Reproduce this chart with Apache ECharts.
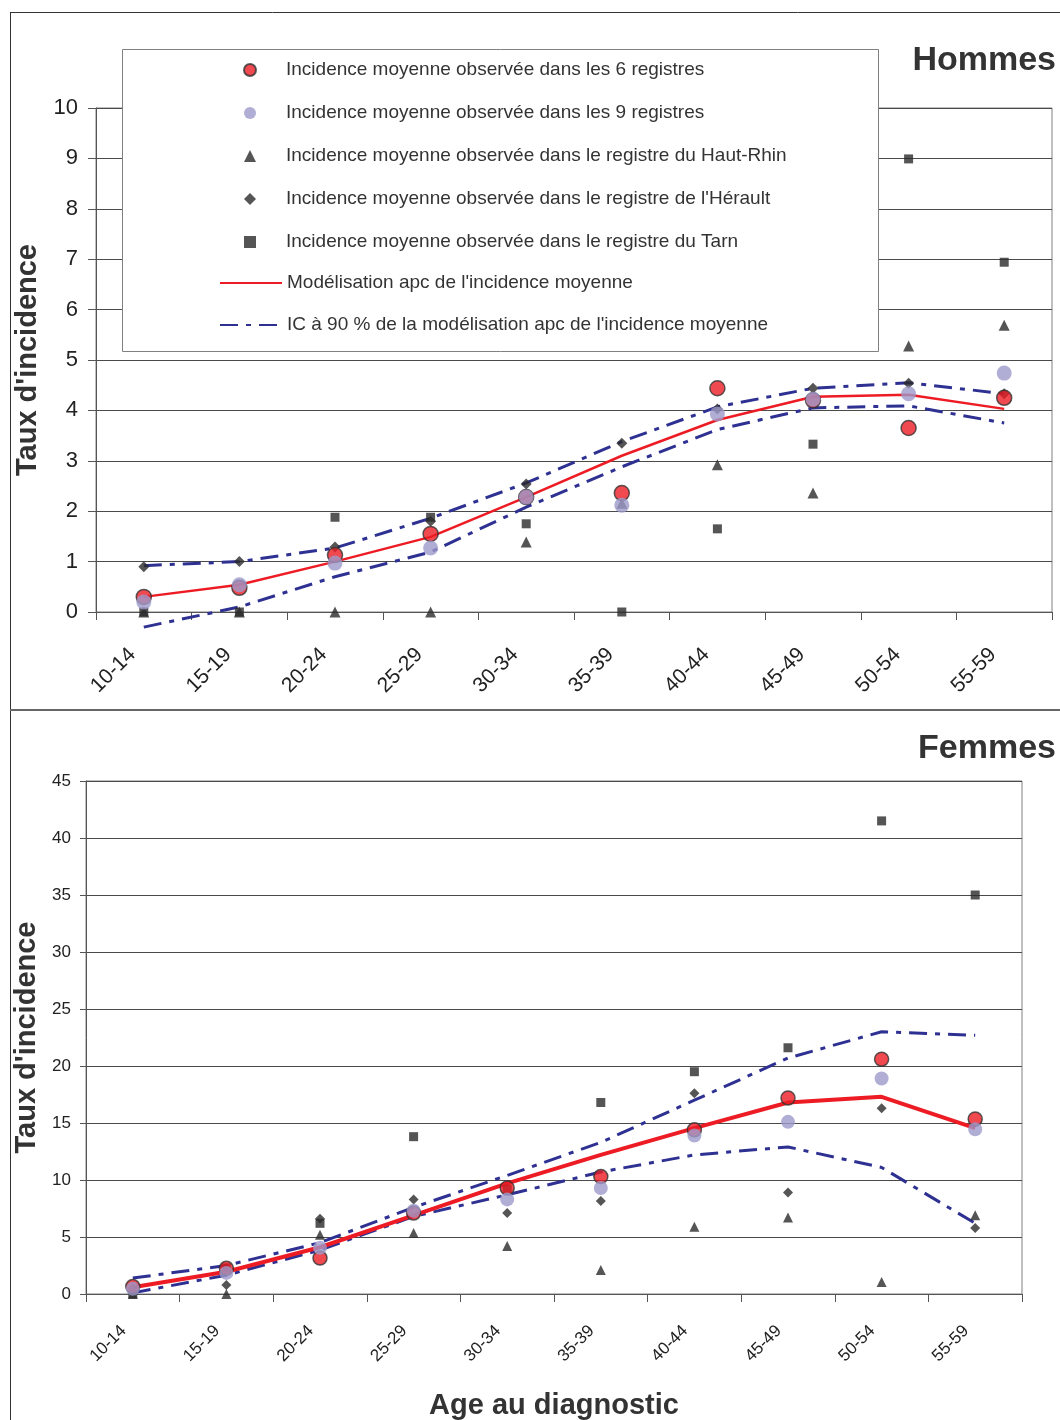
<!DOCTYPE html>
<html><head><meta charset="utf-8">
<script src="https://cdn.jsdelivr.net/npm/echarts@6/dist/echarts.min.js"></script>
<style>html,body{margin:0;padding:0;background:#fff}#c{width:1060px;height:1420px}</style>
</head><body><div id="c"></div>
<script>
const categories = ['10-14','15-19','20-24','25-29','30-34','35-39','40-44','45-49','50-54','55-59'];

// Hommes
const hObs6    = [0.30, 0.48, 1.13, 1.55, 2.28, 2.36, 4.44, 4.20, 3.65, 4.25];
const hObs9    = [0.20, 0.54, 0.97, 1.27, 2.28, 2.12, 3.93, 4.22, 4.33, 4.74];
const hHautRhin= [0, 0, 0, 0, 1.39, 2.16, 2.92, 2.36, 5.28, 5.69];
const hHerault = [0.90, 1.00, 1.29, 1.80, 2.54, 3.35, 4.03, 4.44, 4.54, 4.33];
const hTarn    = [0, 0, 1.88, 1.88, 1.75, 0, 1.65, 3.33, 8.99, 6.94];
const hModel   = [0.30, 0.54, 1.00, 1.49, 2.28, 3.10, 3.81, 4.27, 4.31, 4.03];
const hUpper   = [0.92, 1.00, 1.27, 1.86, 2.56, 3.38, 4.07, 4.44, 4.55, 4.33];
const hLower   = [-0.30, 0.10, 0.70, 1.19, 2.08, 2.88, 3.62, 4.05, 4.09, 3.75];

// Femmes
const fObs6    = [0.65, 2.25, 3.15, 7.1, 9.3, 10.3, 14.4, 17.2, 20.6, 15.35];
const fObs9    = [0.45, 1.85, 4.05, 7.3, 8.3, 9.3, 13.9, 15.1, 18.9, 14.45];
const fHautRhin= [0, 0, 5.2, 5.35, 4.2, 2.1, 5.9, 6.7, 1.05, 6.9];
const fHerault = [0.5, 0.8, 6.6, 8.3, 7.1, 8.15, 17.6, 8.9, 16.3, 5.8];
const fTarn    = [0, 2.3, 6.2, 13.8, 9.2, 16.8, 19.5, 21.6, 41.5, 35.0];
const fModel   = [0.6, 1.95, 4.1, 6.9, 9.7, 12.2, 14.55, 16.8, 17.3, 14.55];
const fUpper   = [1.4, 2.5, 4.5, 7.6, 10.4, 13.3, 17.0, 20.7, 23.0, 22.7];
const fLower   = [0.1, 1.65, 3.85, 6.8, 8.7, 10.7, 12.2, 12.9, 11.1, 6.2];

const hTicks = [0,1,2,3,4,5,6,7,8,9,10];
const fTicks = [0,5,10,15,20,25,30,35,40,45];

const N_OBS6 = 'Incidence moyenne observée dans les 6 registres';
const N_OBS9 = 'Incidence moyenne observée dans les 9 registres';
const N_HR = 'Incidence moyenne observée dans le registre du Haut-Rhin';
const N_HE = "Incidence moyenne observée dans le registre de l'Hérault";
const N_TA = 'Incidence moyenne observée dans le registre du Tarn';
const N_MOD = "Modélisation apc de l'incidence moyenne";
const N_IC = "IC à 90 % de la modélisation apc de l'incidence moyenne";

const FONT = '"Liberation Sans", Arial, sans-serif';
const RED = '#ED1C24', PURPLE = '#9D9ACB', DARK = '#2b2b2b', BLUE = '#2E3192';
const DASH = [18, 8, 5, 8];

function panelSeries(idx, d, big) {
  const s = big ? 1 : 0;
  return [
    {name: N_IC, type:'line', xAxisIndex: idx, yAxisIndex: idx, data: d.upper, symbol:'none', clip:false,
     itemStyle:{color:BLUE}, lineStyle:{color:BLUE, width:3, type:DASH}, z:2},
    {name: N_IC, type:'line', xAxisIndex: idx, yAxisIndex: idx, data: d.lower, symbol:'none', clip:false,
     itemStyle:{color:BLUE}, lineStyle:{color:BLUE, width:3, type:DASH}, z:2},
    {name: N_MOD, type:'line', xAxisIndex: idx, yAxisIndex: idx, data: d.model, symbol:'none',
     itemStyle:{color:RED}, lineStyle:{color:RED, width: big ? 2.5 : 4}, z:3},
    {name: N_TA, type:'scatter', xAxisIndex: idx, yAxisIndex: idx, data: d.tarn, symbol:'rect', symbolSize: 9,
     itemStyle:{color:DARK}, z:4},
    {name: N_HE, type:'scatter', xAxisIndex: idx, yAxisIndex: idx, data: d.herault, symbol:'diamond', symbolSize: 10+s,
     itemStyle:{color:DARK}, z:4},
    {name: N_HR, type:'scatter', xAxisIndex: idx, yAxisIndex: idx, data: d.hautrhin, symbol:'triangle', symbolSize: 10+s,
     itemStyle:{color:DARK}, z:4},
    {name: N_OBS6, type:'scatter', xAxisIndex: idx, yAxisIndex: idx, data: d.obs6, symbol:'circle', symbolSize: 14+s,
     itemStyle:{color:RED, borderColor:'#333', borderWidth:1.5}, z:5},
    {name: N_OBS9, type:'scatter', xAxisIndex: idx, yAxisIndex: idx, data: d.obs9, symbol:'circle', symbolSize: 14+s,
     itemStyle:{color:PURPLE}, z:6}
  ];
}

function xAxisCfg(idx, fs, margin, pad) {
  return {
    type:'category', gridIndex: idx, data: categories, boundaryGap: true,
    axisLine:{show:true, lineStyle:{color:'#555', width:1}},
    axisTick:{show:true, length:8, lineStyle:{color:'#555'}},
    axisLabel:{rotate:45, margin: margin, padding:[0,pad,0,0], fontSize: fs, color:'#222', fontFamily: FONT, interval:0},
    splitLine:{show:false}
  };
}
function yAxisCfg(idx, ticks, fs, nameGap) {
  return {
    type:'value', gridIndex: idx, min: ticks[0], max: ticks[ticks.length-1], interval: ticks[1]-ticks[0],
    name: "Taux d'incidence", nameLocation:'middle', nameGap: nameGap, nameRotate: 90,
    nameTextStyle:{fontSize:29, fontWeight:'bold', color:'#333', fontFamily: FONT},
    axisLine:{show:true, lineStyle:{color:'#555', width:1}},
    axisTick:{show:true, length: idx===0 ? 8 : 6, lineStyle:{color:'#555'}},
    axisLabel:{fontSize: fs, color:'#222', fontFamily: FONT, margin: idx===0 ? 18 : 15},
    splitLine:{show:true, lineStyle:{color:'#4a4a4a', width:1}}
  };
}

const chart = echarts.init(document.getElementById('c'), null, {renderer:'canvas'});
const option = {
  backgroundColor:'#fff',
  animation:false,
  textStyle:{fontFamily: FONT},
  title:[
    {text:'Hommes', right:4, top:44, padding:0, textStyle:{fontSize:34, fontWeight:'bold', color:'#333', fontFamily: FONT}},
    {text:'Femmes', right:4, top:732, padding:0, textStyle:{fontSize:34, fontWeight:'bold', color:'#333', fontFamily: FONT}}
  ],
  grid:[
    {left:96, right:8, top:108, height:504, show:true, borderColor:'#808080', borderWidth:1, backgroundColor:'transparent', outerBoundsMode:'none'},
    {left:86, right:38, top:781, height:513, show:true, borderColor:'#808080', borderWidth:1, backgroundColor:'transparent', outerBoundsMode:'none'}
  ],
  xAxis:[
    xAxisCfg(0, 21, 28, 16),
    Object.assign(xAxisCfg(1, 17, 25, 13), {name:'Age au diagnostic', nameLocation:'middle', nameGap:97,
      nameTextStyle:{fontSize:29, fontWeight:'bold', color:'#333', fontFamily: FONT}})
  ],
  yAxis:[ yAxisCfg(0, hTicks, 22, 44), yAxisCfg(1, fTicks, 17, 29) ],
  legend:[
    {data:[N_OBS6, N_OBS9, N_HR, N_HE, N_TA], orient:'vertical', left:243, top:60, padding:0,
     itemWidth:12, itemHeight:12, itemGap:23, selectedMode:false, z:10,
     textStyle:{fontSize:19, color:'#333', fontFamily: FONT, lineHeight:20, padding:[0,0,0,25]}},
    {data:[N_MOD, N_IC], orient:'vertical', left:219, top:273, padding:0,
     itemWidth:62, itemHeight:12, itemGap:22, selectedMode:false, z:10,
     itemStyle:{opacity:0},
     textStyle:{fontSize:19, color:'#333', fontFamily: FONT, lineHeight:20}}
  ],
  graphic:[
    {type:'line', shape:{x1:10, y1:12.5, x2:1060, y2:12.5}, style:{stroke:'#333', lineWidth:1}, z:1},
    {type:'line', shape:{x1:10.5, y1:12, x2:10.5, y2:1420}, style:{stroke:'#333', lineWidth:1}, z:1},
    {type:'line', shape:{x1:10, y1:710, x2:1060, y2:710}, style:{stroke:'#666', lineWidth:2}, z:1},
    {type:'rect', shape:{x:122.5, y:49.5, width:756, height:302}, style:{fill:'#fff', stroke:'#808080', lineWidth:1}, z:8}
  ],
  series: [].concat(
    panelSeries(0, {obs6:hObs6, obs9:hObs9, hautrhin:hHautRhin, herault:hHerault, tarn:hTarn, model:hModel, upper:hUpper, lower:hLower}, true),
    panelSeries(1, {obs6:fObs6, obs9:fObs9, hautrhin:fHautRhin, herault:fHerault, tarn:fTarn, model:fModel, upper:fUpper, lower:fLower}, false)
  )
};
chart.setOption(option);
</script></body></html>
